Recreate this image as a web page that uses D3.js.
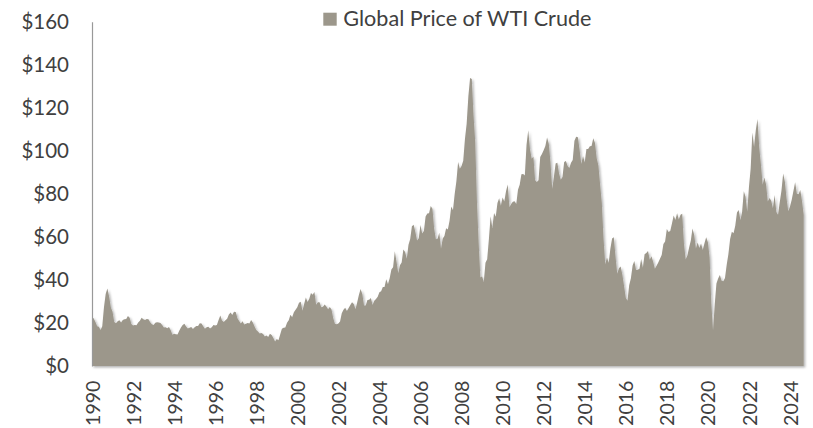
<!DOCTYPE html>
<html>
<head>
<meta charset="utf-8">
<script src="https://cdn.jsdelivr.net/npm/d3@7"></script>
<style>
  html, body { margin: 0; padding: 0; background: #fff; overflow: hidden; }
  #chart { width: 813px; height: 428px; }
  svg { overflow: visible; font-family: Lato, "Open Sans", sans-serif; }
</style>
</head>
<body>
<div id="chart"></div>
<script>
/* Monthly average WTI spot price (USD/bbl), Jan 1990 - Sep 2024 */
const startYear = 1990;
const wti1990s = [
  22.86, 22.11, 20.39, 18.43, 18.20, 16.70, 18.45, 27.31, 33.51, 36.04, 32.33, 27.28,
  25.23, 20.48, 19.90, 20.83, 21.23, 20.19, 21.40, 21.69, 21.89, 23.23, 22.46, 19.50,
  18.79, 19.01, 18.92, 20.23, 20.98, 22.39, 21.78, 21.34, 21.88, 21.69, 20.34, 19.41,
  19.03, 20.09, 20.32, 20.25, 19.95, 19.09, 17.89, 18.01, 17.50, 18.15, 16.61, 14.52,
  15.03, 14.78, 14.68, 16.42, 17.89, 19.06, 19.66, 18.38, 17.45, 17.72, 18.07, 17.16,
  18.04, 18.57, 18.54, 19.90, 19.74, 18.45, 17.33, 18.02, 18.23, 17.43, 17.99, 19.03,
  18.85, 19.09, 21.33, 23.50, 21.17, 20.42, 21.30, 21.90, 23.97, 24.88, 23.71, 25.23,
  25.13, 22.18, 20.97, 19.70, 20.82, 19.26, 19.66, 19.95, 19.80, 21.33, 20.19, 18.33,
  16.72, 16.06, 15.12, 15.35, 14.91, 13.72, 14.17, 13.47, 15.03, 14.46, 13.00, 11.35,
  12.52, 12.01, 14.68, 17.31, 17.72, 17.92, 20.10, 21.28, 23.80, 22.69, 25.00, 26.10
];
const wti2000s = [
  27.26, 29.37, 29.84, 25.72, 28.79, 31.82, 29.70, 31.26, 33.88, 33.11, 34.42, 28.44,
  29.59, 29.61, 27.25, 27.49, 28.63, 27.60, 26.43, 27.37, 26.20, 22.17, 19.64, 19.39,
  19.72, 20.72, 24.53, 26.18, 27.04, 25.52, 26.97, 28.39, 29.66, 28.84, 26.35, 29.46,
  32.95, 35.83, 33.51, 28.17, 28.11, 30.66, 30.75, 31.57, 28.31, 30.34, 31.11, 32.13,
  34.31, 34.69, 36.74, 36.75, 40.28, 38.03, 40.78, 44.90, 45.94, 53.28, 48.47, 43.15,
  46.84, 48.15, 54.19, 52.98, 49.83, 56.35, 59.00, 64.99, 65.59, 62.26, 58.32, 59.41,
  65.49, 61.63, 62.69, 69.44, 70.84, 70.95, 74.41, 73.04, 63.80, 58.89, 59.08, 61.96,
  54.51, 59.28, 60.44, 63.98, 63.46, 67.49, 74.12, 72.36, 79.92, 85.80, 94.77, 91.69,
  92.97, 95.39, 105.45, 112.58, 125.40, 133.88, 133.37, 116.67, 104.11, 76.61, 57.31, 41.12,
  41.71, 39.09, 47.94, 49.65, 59.03, 69.64, 64.15, 71.05, 69.41, 75.72, 77.99, 74.47
];
const wti2010s = [
  78.33, 76.39, 81.20, 84.29, 73.74, 75.34, 76.32, 76.60, 75.24, 81.89, 84.25, 89.15,
  89.17, 88.58, 102.86, 109.53, 100.90, 96.26, 97.30, 86.33, 85.52, 86.32, 97.16, 98.56,
  100.27, 102.20, 106.16, 103.32, 94.66, 82.30, 87.90, 94.13, 94.51, 89.49, 86.53, 87.86,
  94.76, 95.31, 92.94, 92.02, 94.51, 95.77, 104.67, 106.57, 106.29, 100.54, 93.86, 97.63,
  94.62, 100.82, 100.80, 102.07, 102.18, 105.79, 103.59, 96.54, 93.21, 84.40, 75.79, 59.29,
  47.22, 50.58, 47.82, 54.45, 59.27, 59.82, 50.90, 42.87, 45.48, 46.22, 42.44, 37.19,
  31.68, 30.32, 37.55, 40.75, 46.71, 48.76, 44.65, 44.72, 45.18, 49.78, 45.66, 51.97,
  52.50, 53.47, 49.33, 51.06, 48.48, 45.18, 46.63, 48.04, 49.82, 51.58, 56.64, 57.88,
  63.70, 62.23, 62.73, 66.25, 69.98, 67.87, 70.98, 68.06, 70.23, 70.75, 56.96, 49.52,
  51.38, 54.95, 58.15, 63.86, 60.83, 54.66, 57.35, 54.81, 56.95, 53.96, 57.03, 59.88
];
const wti2020s = [
  57.52, 50.54, 29.21, 16.55, 28.56, 38.31, 40.71, 42.34, 39.63, 39.40, 40.94, 47.02,
  52.00, 59.04, 62.33, 61.72, 65.17, 71.38, 72.49, 67.73, 71.54, 81.22, 78.65, 71.71,
  83.22, 91.64, 108.50, 101.78, 109.55, 114.84, 101.62, 93.67, 84.26, 87.55, 84.37, 76.44,
  78.12, 76.83, 73.28, 79.45, 71.58, 70.25, 76.07, 81.39, 89.43, 85.64, 77.69, 71.90,
  74.15, 77.25, 81.28, 85.35, 80.02, 79.77, 81.80, 76.68, 70.24
];
const yTicks = [0, 20, 40, 60, 80, 100, 120, 140, 160];
const xTickYears = [1990, 1992, 1994, 1996, 1998, 2000, 2002, 2004, 2006, 2008,
                    2010, 2012, 2014, 2016, 2018, 2020, 2022, 2024];
const seriesName = "Global Price of WTI Crude";

const prices = [...wti1990s, ...wti2000s, ...wti2010s, ...wti2020s];
const data = prices.map((v, i) => ({ i, value: v }));

const W = 813, H = 428;
const plot = { left: 92, right: 803.7, top: 21.7, bottom: 366 };
const FILL = "#9c978b";
const TXT = "#404040";

const svg = d3.select("#chart").append("svg")
  .attr("width", W).attr("height", H);

const defs = svg.append("defs");
const shadow = defs.append("filter").attr("id", "shadow")
  .attr("x", "-5%").attr("y", "-5%").attr("width", "110%").attr("height", "110%");
shadow.append("feDropShadow")
  .attr("dx", 1.5).attr("dy", 1.5).attr("stdDeviation", 1.2)
  .attr("flood-color", "#000").attr("flood-opacity", 0.3);

// monthly categories, first one sits on the value axis
const x = d3.scaleLinear().domain([0, data.length - 1]).range([plot.left, plot.right]);
const y = d3.scaleLinear().domain([0, 160]).range([plot.bottom, plot.top]);

const area = d3.area()
  .x(d => x(d.i))
  .y0(y(0))
  .y1(d => y(d.value));

svg.append("path").datum(data)
  .attr("d", area)
  .attr("fill", FILL)
  .attr("filter", "url(#shadow)");

/* value axis */
const yAxis = svg.append("g").attr("transform", `translate(${plot.left},0)`)
  .call(d3.axisLeft(y).tickValues(yTicks).tickSize(0).tickPadding(23)
    .tickFormat(d => "$" + d));
yAxis.select(".domain").attr("stroke", "#999").attr("stroke-width", 1.2);
yAxis.selectAll("text")
  .style("font-size", "20.5px").style("fill", TXT)
  .style("font-family", "Lato, 'Open Sans', sans-serif");

/* category axis — year labels every 24 months */
const xAxis = svg.append("g").attr("transform", `translate(0,${plot.bottom})`)
  .call(d3.axisBottom(x)
    .tickValues(xTickYears.map(yr => (yr - startYear) * 12))
    .tickSize(0)
    .tickFormat(i => startYear + i / 12));
xAxis.select(".domain").remove();
xAxis.selectAll("text")
  .attr("transform", "rotate(-90)")
  .attr("x", -14.5).attr("y", 0).attr("dy", "0.36em")
  .attr("text-anchor", "end")
  .style("font-size", "19.6px").style("fill", TXT)
  .style("font-family", "Lato, 'Open Sans', sans-serif");

svg.append("line")
  .attr("x1", plot.left - 1).attr("x2", plot.right)
  .attr("y1", plot.bottom).attr("y2", plot.bottom)
  .attr("stroke", "#858585").attr("stroke-width", 2)
  .attr("filter", "url(#shadow)");

/* legend */
const leg = svg.append("g").attr("transform", "translate(323.3,12.7)");
leg.append("rect").attr("width", 13.4).attr("height", 13).attr("fill", FILL);
leg.append("text").attr("x", 20).attr("y", 13.6)
  .style("font-size", "21.6px").style("fill", TXT)
  .text(seriesName);
</script>
</body>
</html>
